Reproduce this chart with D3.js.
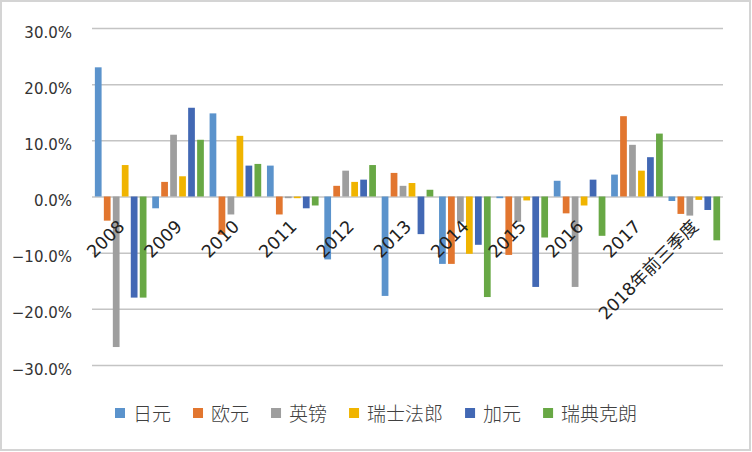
<!DOCTYPE html>
<html>
<head>
<meta charset="utf-8">
<script src="https://cdn.jsdelivr.net/npm/d3@7"></script>
<style>
  body { margin: 0; background: #fff; }
  svg { display: block; }
</style>
</head>
<body>
<svg id="chart"></svg>
<script>
// categories and series (percent)
const years = ['2008', '2009', '2010', '2011', '2012', '2013', '2014', '2015', '2016', '2017', '2018年前三季度'];
const currencies = ['日元', '欧元', '英镑', '瑞士法郎', '加元', '瑞典克朗'];
const colors = ['#5b93cc', '#e2762f', '#9e9e9e', '#f0b400', '#4268b4', '#68a845'];

const jpy = [23.0, -2.1, 14.8, 5.5, -11.2, -17.7, -12.0, -0.3, 2.8, 3.9, -0.8];
const eur = [-4.3, 2.6, -6.8, -3.2, 1.9, 4.2, -12.0, -10.4, -3.0, 14.3, -3.1];
const gbp = [-26.8, 11.0, -3.2, -0.3, 4.6, 1.9, -4.5, -4.5, -16.1, 9.2, -3.4];
const chf = [5.6, 3.6, 10.8, -0.3, 2.6, 2.4, -10.2, -0.7, -1.6, 4.6, -0.6];
const cad = [-18.0, 15.8, 5.5, -2.1, 3.0, -6.7, -8.6, -16.1, 3.0, 7.0, -2.4];
const sek = [-18.0, 10.1, 5.8, -1.6, 5.6, 1.2, -17.9, -7.3, -7.0, 11.2, -7.8];
const seriesValues = [jpy, eur, gbp, chf, cad, sek];

const yTicks = [-0.3, -0.2, -0.1, 0, 0.1, 0.2, 0.3];

const width = 752, height = 452;
const plotLeft = 92, plotRight = 723, plotTop = 28, plotBottom = 365;

const svg = d3.select('#chart')
    .attr('width', width)
    .attr('height', height);

svg.append('rect')
    .attr('x', 1).attr('y', 1)
    .attr('width', width - 3).attr('height', height - 3)
    .attr('fill', '#fff')
    .attr('stroke', '#d4d4d4')
    .attr('stroke-width', 2);

let y = d3.scaleLinear()
    .domain([-0.3, 0.3])
    .range([plotBottom, plotTop]);

let x0 = d3.scaleBand()
    .domain(years)
    .range([plotLeft, plotRight])
    .paddingInner(0.1)
    .paddingOuter(0.05);

let x1 = d3.scaleBand()
    .domain(currencies)
    .range([0, x0.bandwidth()])
    .paddingInner(0.25);

// gridlines and y labels
const yAxis = svg.append('g')
    .attr('transform', 'translate(' + plotLeft + ',0)')
    .call(d3.axisLeft(y)
        .tickValues(yTicks)
        .tickSize(-(plotRight - plotLeft))
        .tickPadding(20)
        .tickFormat(d3.format('.1%')));
yAxis.select('.domain').remove();
yAxis.selectAll('line')
    .attr('stroke', '#c4c4c4')
    .attr('stroke-width', 1.5);
yAxis.selectAll('text')
    .attr('font-family', 'DejaVu Sans, sans-serif')
    .attr('font-size', 15)
    .attr('fill', '#333')
    .attr('dy', '0.6em');

// bars
const table = years.map(function(yr, i) {
    return currencies.map(function(c, j) {
        return {year: yr, cur: c, value: seriesValues[j][i] / 100, color: colors[j]};
    });
});

svg.append('g')
    .selectAll('g')
    .data(table)
    .enter().append('g')
        .attr('transform', function(d, i) { return 'translate(' + x0(years[i]) + ',0)'; })
    .selectAll('rect')
    .data(function(d) { return d; })
    .enter().append('rect')
        .attr('x', function(d) { return x1(d.cur); })
        .attr('width', x1.bandwidth())
        .attr('y', function(d) { return y(Math.max(0, d.value)); })
        .attr('height', function(d) { return Math.abs(y(d.value) - y(0)); })
        .attr('fill', function(d) { return d.color; });

// category labels, rotated, sitting just under the zero line
svg.append('g')
    .selectAll('text')
    .data(years)
    .enter().append('text')
        .attr('transform', function(d) {
            return 'translate(' + (x0(d) + x0.bandwidth() / 2 + 5) + ',' + (y(0) + 31) + ') rotate(-45)';
        })
        .attr('text-anchor', 'end')
        .attr('font-family', 'DejaVu Sans, Noto Sans CJK SC, sans-serif')
        .attr('font-size', 17.5)
        .attr('fill', '#222')
        .text(function(d) { return d; });

// legend
const legend = svg.append('g');
let lx = 115;
currencies.forEach(function(c, j) {
    legend.append('rect')
        .attr('x', lx).attr('y', 408)
        .attr('width', 10).attr('height', 10)
        .attr('fill', colors[j]);
    const t = legend.append('text')
        .attr('x', lx + 18).attr('y', 421)
        .attr('font-family', 'Noto Sans CJK SC, sans-serif')
        .attr('font-size', 19)
        .attr('font-weight', 300)
        .attr('fill', '#404040')
        .text(c);
    lx += 18 + t.node().getComputedTextLength() + 22;
});
</script>
</body>
</html>
